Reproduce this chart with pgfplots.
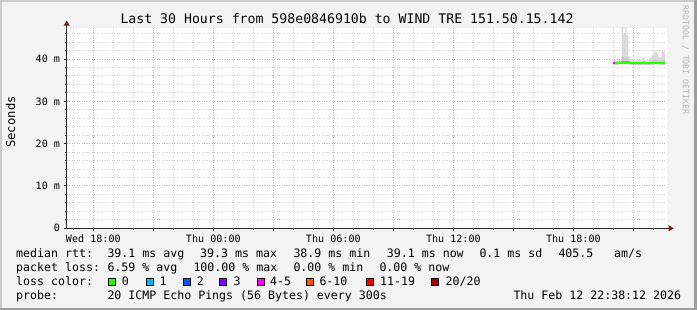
\documentclass[border=0pt]{standalone}
\usepackage{fontspec}
\setmainfont{DejaVu Sans Mono}
\usepackage{xcolor}
\usepackage{pgfplots}
\usepackage{pgfplotstable}
\pgfplotsset{compat=1.18}
\usepgfplotslibrary{fillbetween}
\usetikzlibrary{arrows.meta}

\definecolor{bg}{HTML}{F3F3F3}
\definecolor{shadea}{HTML}{CBCBCB}
\definecolor{shadeb}{HTML}{9E9E9E}
\definecolor{gridc}{HTML}{D2D2D2}
\definecolor{mgridc}{HTML}{E8A6A6}
\definecolor{arrowc}{HTML}{7F1F1F}
\definecolor{axisc}{HTML}{2A2A2A}
\definecolor{smoke}{HTML}{DADADA}
\definecolor{smokein}{HTML}{C8C8C8}
\definecolor{loss0}{HTML}{26FF00}
\definecolor{loss1}{HTML}{00B8FF}
\definecolor{loss2}{HTML}{0059FF}
\definecolor{loss3}{HTML}{7E00FF}
\definecolor{loss4}{HTML}{FF00FF}
\definecolor{loss6}{HTML}{FF5500}
\definecolor{loss11}{HTML}{FF0000}
\definecolor{loss20}{HTML}{A10000}
\definecolor{wmark}{HTML}{B4B4B4}
\pagecolor{bg}

\pgfplotstableread{
h      min  max  inner med
44.000 38.7 39.6 39.3  39.0
44.083 38.7 39.8 39.4  39.0
44.167 38.7 39.7 39.4  39.1
44.250 38.8 39.8 39.5  39.1
44.333 38.8 39.9 39.5  39.1
44.417 38.8 60.0 40.6  39.2
44.500 38.9 45.9 40.4  39.2
44.583 38.9 60.0 40.6  39.2
44.667 38.9 45.7 40.3  39.2
44.750 38.8 40.6 39.7  39.1
44.833 38.7 40.0 39.4  39.0
44.917 38.6 39.7 39.3  39.0
45.000 38.6 39.6 39.2  39.0
45.083 38.6 39.6 39.2  39.0
45.167 38.6 39.7 39.2  39.0
45.250 38.6 39.8 39.3  39.0
45.333 38.6 39.7 39.2  39.0
45.417 38.7 40.3 39.5  39.0
45.500 38.7 40.2 39.5  39.0
45.583 38.6 39.7 39.3  39.0
45.667 38.6 39.6 39.2  39.0
45.750 38.6 39.8 39.3  39.0
45.833 38.7 40.2 39.5  39.0
45.917 38.7 41.0 39.7  39.1
46.000 38.7 41.4 39.8  39.1
46.083 38.8 42.0 40.0  39.1
46.167 38.8 41.5 39.8  39.1
46.250 38.7 40.4 39.6  39.1
46.333 38.7 40.4 39.6  39.1
46.417 38.7 41.8 39.8  39.1
46.500 38.7 41.8 39.8  39.1
46.583 38.7 41.8 39.8  39.1
}\smokedata

\newcommand\lgf{\fontsize{11.6}{14}\selectfont}

\begin{document}
\begin{tikzpicture}[x=1pt,y=1pt]
\fill[shadea] (0,0) rectangle (2,310);
\fill[shadea] (0,308) rectangle (697,310);
\fill[shadeb] (0,0) rectangle (697,2);
\fill[shadeb] (694,0) rectangle (697,310);

\node[anchor=base, inner sep=0pt] at (347,286) {\fontsize{13.2}{15}\selectfont Last 30 Hours from 598e0846910b to WIND TRE 151.50.15.142};

\node[rotate=90, inner sep=0pt] at (10.5,188) {\fontsize{12.2}{14}\selectfont Seconds};

\node[rotate=-90, inner sep=0pt, text=wmark] at (685.5,250) {\fontsize{8.2}{9}\selectfont RRDTOOL / TOBI OETIKER};

\begin{axis}[
  at={(66.7pt,81.7pt)}, anchor=south west,
  scale only axis, width=600pt, height=200.6pt,
  xmin=16.667, xmax=46.667, ymin=0, ymax=47.4,
  axis background/.style={fill=white},
  axis lines=left,
  axis line style={axisc, line width=1pt},
  x axis line style={-{Triangle[length=5pt,width=6pt,color=arrowc]}, shorten >=-7pt},
  y axis line style={-{Triangle[length=5pt,width=6pt,color=arrowc]}, shorten >=-7pt},
  xtick={18,21,24,27,30,33,36,39,42,45},
  xticklabels={Wed 18:00,,Thu 00:00,,Thu 06:00,,Thu 12:00,,Thu 18:00,},
  minor xtick={17,19,20,22,23,25,26,28,29,31,32,34,35,37,38,40,41,43,44,46},
  ytick={0,10,20,30,40},
  yticklabels={0,10 m,20 m,30 m,40 m},
  minor ytick={2,4,6,8,12,14,16,18,22,24,26,28,32,34,36,38,42,44,46},
  grid=both,
  major grid style={mgridc, dash pattern=on 1pt off 1.5pt, line width=1pt},
  minor grid style={gridc, dash pattern=on 1pt off 1.5pt, line width=1pt},
  tick style={axisc, line width=1pt},
  major tick length=3pt, minor tick length=2pt,
  tick align=outside,
  ticklabel style={font=\fontsize{10.1}{12}\selectfont},
  xticklabel style={inner sep=0pt, yshift=-3pt},
  yticklabel style={inner sep=0pt, xshift=-3.5pt},
]
\addplot[name path=smax, const plot, draw=none, forget plot] table[x=h,y=max]{\smokedata};
\addplot[name path=smin, const plot, draw=none, forget plot] table[x=h,y=min]{\smokedata};
\addplot[name path=sin, const plot, draw=none, forget plot] table[x=h,y=inner]{\smokedata};
\addplot[smoke, forget plot] fill between[of=smax and smin];
\addplot[smokein, forget plot] fill between[of=sin and smin];
\addplot[const plot, loss0, line width=2.3pt, skip coords between index={0}{1}] table[x=h,y=med]{\smokedata};
\addplot[const plot, loss4, line width=2.3pt] coordinates {(44.0,39.0) (44.083,39.0)};
\end{axis}

% legend
\node[anchor=base west, inner sep=0pt] at (16,52.7) {\lgf median rtt:};
\node[anchor=base west, inner sep=0pt] at (107.3,52.7) {\lgf 39.1 ms avg};
\node[anchor=base west, inner sep=0pt] at (200,52.7) {\lgf 39.3 ms max};
\node[anchor=base west, inner sep=0pt] at (293.3,52.7) {\lgf 38.9 ms min};
\node[anchor=base west, inner sep=0pt] at (386.7,52.7) {\lgf 39.1 ms now};
\node[anchor=base west, inner sep=0pt] at (479.3,52.7) {\lgf 0.1 ms sd};
\node[anchor=base west, inner sep=0pt] at (558.3,52.7) {\lgf 405.5};
\node[anchor=base west, inner sep=0pt] at (614,52.7) {\lgf am/s};

\node[anchor=base west, inner sep=0pt] at (16,38.3) {\lgf packet loss:};
\node[anchor=base west, inner sep=0pt] at (107.3,38.3) {\lgf 6.59 \% avg};
\node[anchor=base west, inner sep=0pt] at (193.3,38.3) {\lgf 100.00 \% max};
\node[anchor=base west, inner sep=0pt] at (293.3,38.3) {\lgf 0.00 \% min};
\node[anchor=base west, inner sep=0pt] at (379.3,38.3) {\lgf 0.00 \% now};

\node[anchor=base west, inner sep=0pt] at (16,24.7) {\lgf loss color:};
\foreach \bx/\col/\lx/\txt in {108.3/loss0/121.7/{0}, 145.7/loss1/159.3/{1}, 182.7/loss2/196.7/{2}, 219.3/loss3/233.3/{3}, 256.7/loss4/270/{4-5}, 306.3/loss6/319.3/{6-10}, 365.7/loss11/380/{11-19}, 430.7/loss20/445.5/{20/20}}{
  \filldraw[fill=\col, draw=black, line width=0.9pt] (\bx+0.5,24.8) rectangle (\bx+7.5,31.6);
  \node[anchor=base west, inner sep=0pt] at (\lx,24.7) {\lgf \txt};
}

\node[anchor=base west, inner sep=0pt] at (16,10) {\lgf probe:};
\node[anchor=base west, inner sep=0pt] at (107.3,10) {\lgf 20 ICMP Echo Pings (56 Bytes) every 300s};
\node[anchor=base west, inner sep=0pt] at (513.3,10) {\lgf Thu Feb 12 22:38:12 2026};

\pgfresetboundingbox
\useasboundingbox (0,0) rectangle (697,310);
\end{tikzpicture}
\end{document}
